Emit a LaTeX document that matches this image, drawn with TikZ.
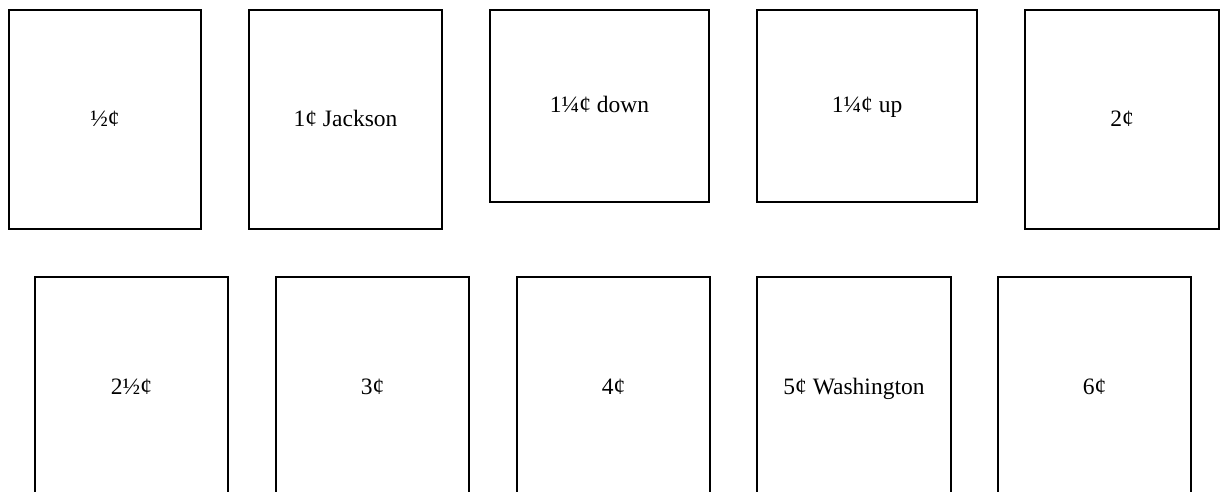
\documentclass[tikz,border=0pt]{standalone}
\usepackage{fontspec}
\setmainfont{Liberation Serif}
\begin{document}
\begin{tikzpicture}[x=1pt,y=-1pt,
  stamp/.style={draw=black, line width=2pt, inner sep=0pt, text height=1.36em, text depth=0pt, font=\fontsize{23.5}{28}\selectfont}]
\useasboundingbox (0,0) rectangle (1220,492);
\clip (0,0) rectangle (1220,492);
\node[stamp, minimum width=192pt, minimum height=219pt] (b1) at (105,119.5) {½¢};
\node[stamp, minimum width=193pt, minimum height=219pt] (b2) at (345.5,119.5) {1¢ Jackson};
\node[stamp, minimum width=219pt, minimum height=192pt] (b3) at (599.5,106) {1¼¢ down};
\node[stamp, minimum width=220pt, minimum height=192pt] (b4) at (867,106) {1¼¢ up};
\node[stamp, minimum width=194pt, minimum height=219pt] (b5) at (1122,119.5) {2¢};
\node[stamp, minimum width=193pt, minimum height=222pt] (b6) at (131.5,388) {2½¢};
\node[stamp, minimum width=193pt, minimum height=222pt] (b7) at (372.5,388) {3¢};
\node[stamp, minimum width=193pt, minimum height=222pt] (b8) at (613.5,388) {4¢};
\node[stamp, minimum width=194pt, minimum height=222pt] (b9) at (854,388) {5¢ Washington};
\node[stamp, minimum width=193pt, minimum height=222pt] (b10) at (1094.5,388) {6¢};
\end{tikzpicture}
\end{document}
